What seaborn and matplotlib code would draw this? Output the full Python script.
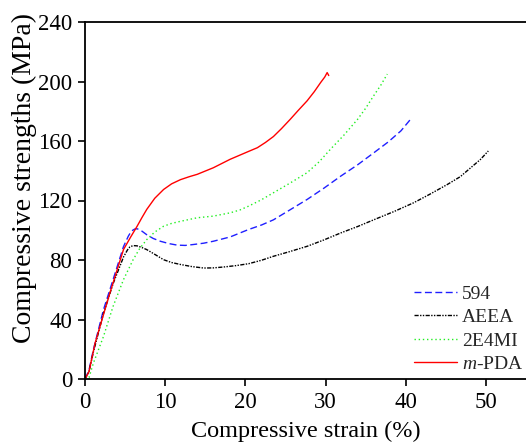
import matplotlib
matplotlib.use("Agg")
import matplotlib.pyplot as plt
import seaborn as sns
import pandas as pd

# ---- data ----
s594_x = [0, 0.5, 1.04, 2.3, 3.5, 4.8, 5.4, 5.8, 6.2, 6.5, 7.0, 7.7, 8.5, 9.4, 10.5, 11.5,
          12.5, 13.5, 14.8, 16.0, 18.1, 20.4, 22.0, 23.5, 25.5, 27.7, 29.8, 31.9, 34.0,
          36.0, 37.8, 39.4, 40.6]
s594_y = [0, 6, 19.6, 46.5, 66.8, 89, 96, 99.5, 100.8, 101, 99.8, 97, 94.5, 92.6, 91, 90,
          89.8, 90.4, 91.3, 92.6, 95.5, 100.5, 103.5, 107, 113.5, 120.7, 128.3, 136.4, 144,
          152, 159.3, 166.8, 174.6]

aeea_x = [0, 0.5, 1.04, 2.3, 3.5, 4.8, 5.3, 5.6, 6.0, 6.5, 7.0, 7.7, 8.7, 9.8, 10.8,
          11.9, 13.3, 14.8, 16.0, 17.3, 18.8, 20.4, 22.0, 23.5, 25.5, 27.7, 29.8, 31.9,
          34.0, 36.0, 38.5, 41.0, 43.0, 45.2, 46.8, 48.1, 49.3, 50.3]
aeea_y = [0, 5, 18, 44, 64, 82, 86.8, 88.8, 89.7, 89.5, 88.6, 87, 83.8, 80.2, 78.3,
          77, 75.6, 74.6, 74.7, 75.3, 76.2, 77.5, 79.8, 82.5, 85.6, 89.2, 93.5, 98.2,
          102.5, 107, 112.5, 118.5, 124.2, 130.8, 136, 142, 147.5, 153.3]

e4mi_x = [0, 0.5, 1.04, 2.3, 3.5, 4.8, 6.0, 6.8, 7.7, 8.7, 9.8, 10.8, 11.9, 14.0, 16.0,
          18.1, 19.3, 20.4, 22.0, 23.5, 25.6, 27.7, 29.2, 30.6, 32.3, 34.0, 35.0, 36.0,
          36.9, 37.7]
e4mi_y = [0, 1, 10.6, 28.5, 48.8, 66.8, 80.2, 87.5, 93.7, 98.8, 102.7, 104.6, 106, 108.4,
          109.5, 111.7, 113.6, 116.2, 120.5, 125.2, 131.8, 138.7, 146, 154.4, 164, 174.6,
          182, 190.4, 197.6, 205]

mpda_x = [0, 0.5, 1.25, 3.1, 4.8, 5.7, 6.5, 7.1, 7.7, 8.7, 9.8, 10.8, 11.9, 13.0, 14.0,
          16.0, 18.1, 20.4, 21.5, 22.5, 23.5, 24.5, 25.6, 26.6, 27.7, 28.6, 29.4, 29.9,
          30.2, 30.4]
mpda_y = [0, 5, 24, 57.8, 87, 95.5, 102.7, 108.5, 114, 121.5, 127.4, 131.2, 134, 136, 137.6,
          142, 147.7, 153, 155.5, 159, 163, 168.3, 174.6, 180.6, 187, 193.2, 199.4, 203,
          206, 204]

series_labels = ["594", "AEEA", "2E4MI", "$m$-PDA"]
x_ticks = [0, 10, 20, 30, 40, 50]
y_ticks = [0, 40, 80, 120, 160, 200, 240]

sns.set_theme(style="white")
plt.rcParams["font.family"] = ["Liberation Serif", "DejaVu Serif"]
plt.rcParams["mathtext.fontset"] = "custom"
plt.rcParams["mathtext.rm"] = "Liberation Serif"
plt.rcParams["mathtext.it"] = "Liberation Serif:italic"

fig = plt.figure(figsize=(5.26, 4.45), dpi=100)
ax = fig.add_axes([85 / 526, 1 - 379 / 445, 1 - 85 / 526, (379 - 22) / 445])

styles = [
    (s594_x, s594_y, "#1f1fff", (0, (5, 2.5))),
    (aeea_x, aeea_y, "black", (0, (3, 1, 1, 1, 1, 1))),
    (e4mi_x, e4mi_y, "#22ee22", (0, (1, 2))),
    (mpda_x, mpda_y, "#ff0000", "-"),
]
for (xs, ys, c, ls), lab in zip(styles, series_labels):
    df = pd.DataFrame({"strain": xs, "stress": ys})
    sns.lineplot(data=df, x="strain", y="stress", ax=ax, color=c, linestyle=ls,
                 linewidth=1.0, label=lab, sort=False, estimator=None)

ax.set_xlim(0, 55)
ax.set_ylim(0, 240)
ax.set_xticks(x_ticks)
ax.set_yticks(y_ticks)
ax.tick_params(axis="both", direction="out", length=5, width=1.2, labelsize=16.5,
               colors="black", bottom=True, left=True, top=False, right=False, pad=4)
for side in ["left", "bottom", "top"]:
    ax.spines[side].set_visible(True)
    ax.spines[side].set_linewidth(1.3)
    ax.spines[side].set_color("black")
ax.spines["right"].set_visible(False)

ax.set_xlabel("Compressive strain (%)", fontsize=17.5, labelpad=6, color="black")
ax.set_ylabel("Compressive strengths (MPa)", fontsize=20, color="black")
ax.yaxis.set_label_coords(-0.108, 0.563)

ax.legend(loc="lower right", frameon=False, fontsize=14, handlelength=2.2,
          handletextpad=0.25, labelspacing=0.3, borderaxespad=0.0,
          bbox_to_anchor=(1.012, -0.005))

fig.savefig("out.png", dpi=100)
